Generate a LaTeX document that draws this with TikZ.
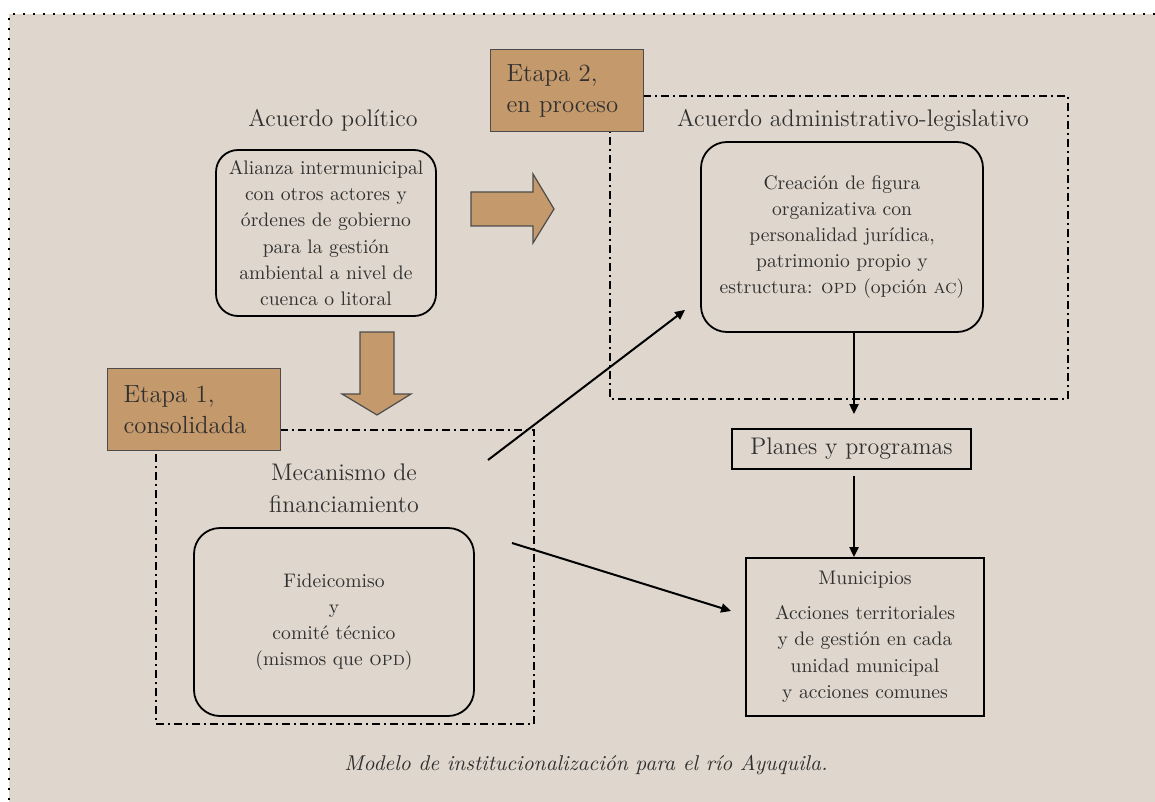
\documentclass[tikz,border=0pt]{standalone}
\usepackage{tikz}
\usetikzlibrary{arrows.meta,calc,positioning}

\definecolor{fondo}{HTML}{DFD7CD}
\definecolor{cafe}{HTML}{C4996B}
\definecolor{texto}{HTML}{303030}

\tikzset{
  caja/.style={draw, line width=0.9pt, rounded corners=11pt, align=center, text=texto,
    font=\fontsize{9.8}{13.1}\selectfont, inner sep=0pt},
  recuadro/.style={draw, line width=0.9pt, align=center, text=texto, inner sep=0pt},
  titulo/.style={align=center, text=texto, font=\fontsize{12}{16}\selectfont},
  etapa/.style={draw=black!70, line width=0.6pt, fill=cafe, anchor=north west, align=left,
    text=texto, font=\fontsize{12.4}{15.5}\selectfont, inner xsep=8pt, inner ysep=0pt,
    minimum height=41pt},
  marco/.style={line width=1pt, dash pattern=on 4pt off 2pt on 1pt off 2pt},
  flecha/.style={line width=1pt, -{Triangle[length=5pt,width=4.5pt]}},
  bloque/.style={draw=black!70, line width=0.6pt, fill=cafe},
}

\begin{document}
\begin{tikzpicture}[x=0.5pt,y=-0.5pt]
\useasboundingbox (0,0) rectangle (1155,802);
\fill[white] (0,0) rectangle (1155,802);
\fill[fondo] (9,14) rectangle (1155,802);
\draw[line width=1pt, dash pattern=on 1pt off 4pt] (1155,14) -- (9,14) -- (9,802);

% marcos de las etapas
\draw[marco] (643,96) -- (1068,96) -- (1068,399) -- (610,399) -- (610,131);
\draw[marco] (280,430) -- (534,430) -- (534,724) -- (156,724) -- (156,450);

% flechas gruesas
\draw[bloque] (471,192) -- (533,192) -- (533,174) -- (554,209) -- (533,243) -- (533,226) -- (471,226) -- cycle;
\draw[bloque] (360,332) -- (394,332) -- (394,394) -- (411,394) -- (377,415) -- (342,394) -- (360,394) -- cycle;

% etapas
\node[etapa, text width=60.5pt] (etapa2) at (490,49) {Etapa 2,\\en proceso};
\node[etapa, text width=70.5pt] (etapa1) at (107,368) {Etapa 1,\\consolidada};

% acuerdo politico
\node[titulo] (politico) at (333,120) {Acuerdo político};
\node[caja, minimum width=110pt, minimum height=83pt] (alianza) at (326,233)
  {Alianza intermunicipal\\con otros actores y\\órdenes de gobierno\\para la gestión\\ambiental a nivel de\\cuenca o litoral};

% acuerdo administrativo
\node[titulo] (admin) at (853,120) {Acuerdo administrativo-legislativo};
\node[caja, rounded corners=13pt, minimum width=141pt, minimum height=95pt] (creacion) at (842,237)
  {Creación de figura\\organizativa con\\personalidad jurídica,\\patrimonio propio y\\estructura: \textsc{opd} (opción \textsc{ac})};

% financiamiento
\node[titulo] (mecanismo) at (344,488) {Mecanismo de\\financiamiento};
\node[caja, rounded corners=13pt, minimum width=140pt, minimum height=94pt] (fideicomiso) at (334,622)
  {Fideicomiso\\y\\comité técnico\\(mismos que \textsc{opd})};

% planes y municipios
\node[recuadro, font=\fontsize{12}{16}\selectfont, minimum width=119.5pt, minimum height=20pt] (planes) at (851.5,449) {Planes y programas};
\node[recuadro, font=\fontsize{9.8}{13.2}\selectfont, minimum width=119pt, minimum height=79pt] (municipios) at (865,637)
  {Municipios\\[4pt]Acciones territoriales\\y de gestión en cada\\unidad municipal\\y acciones comunes};

% conectores
\coordinate (d1) at (488,460);
\coordinate (d2) at ($(creacion.south west)+(-15,-23)$);
\coordinate (m1) at (512,543);
\coordinate (m2) at ($(municipios.west)+(-14,-26)$);
\draw[flecha] (d1) -- (d2);
\draw[flecha] (m1) -- (m2);
\draw[flecha, shorten >=7pt] (creacion.south -| 854,0) -- (854,0 |- planes.north);
\draw[flecha, shorten <=3pt] (854,0 |- planes.south) -- (854,0 |- municipios.north);

% pie
\node[text=texto, font=\fontsize{10.7}{13}\selectfont\itshape] (pie) at (586,765)
  {Modelo de institucionalización para el río Ayuquila.};
\end{tikzpicture}
\end{document}
